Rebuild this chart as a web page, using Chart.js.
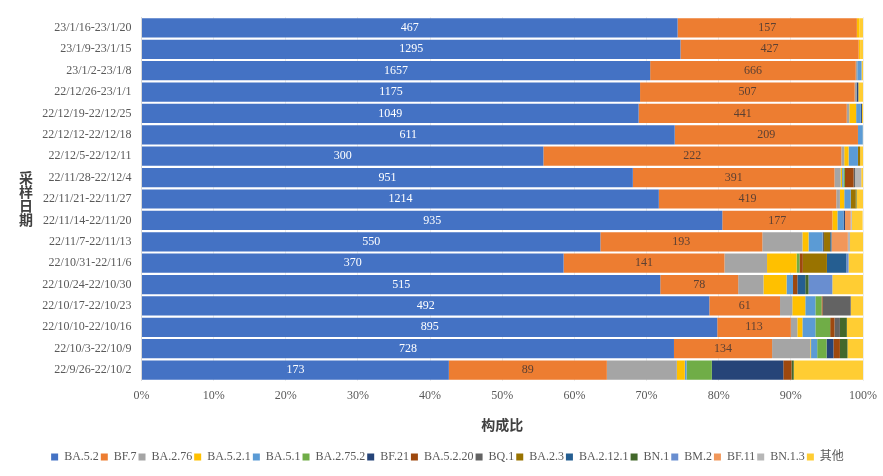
<!DOCTYPE html>
<html lang="zh">
<head>
<meta charset="UTF-8">
<title>构成比</title>
<style>
    body { margin: 0; background: #fff; }
    #wrap { position: relative; width: 883px; height: 476px; }
    #yTitle {
        position: absolute;
        left: 18px;
        top: 171px;
        writing-mode: vertical-rl;
        text-orientation: upright;
        font: bold 14px "Noto Sans CJK SC";
        line-height: 16px;
        letter-spacing: 0;
        color: #404040;
    }
</style>
</head>
<body>
<div id="wrap">
    <canvas id="chart" width="883" height="476"></canvas>
    <div id="yTitle">采样日期</div>
</div>
<script src="https://cdn.jsdelivr.net/npm/chart.js"></script>
<script>
const dates = ['23/1/16-23/1/20','23/1/9-23/1/15','23/1/2-23/1/8','22/12/26-23/1/1','22/12/19-22/12/25','22/12/12-22/12/18','22/12/5-22/12/11','22/11/28-22/12/4','22/11/21-22/11/27','22/11/14-22/11/20','22/11/7-22/11/13','22/10/31-22/11/6','22/10/24-22/10/30','22/10/17-22/10/23','22/10/10-22/10/16','22/10/3-22/10/9','22/9/26-22/10/2'];

// percentages, top row first
const ba52    = [74.3,74.7,70.5,69.1,68.9,73.9,55.7,68.1,71.7,80.5,63.6,58.5,71.9,78.7,79.8,73.8,42.6];
const bf7     = [24.85,24.7,28.5,29.75,28.85,25.4,41.3,27.95,24.6,15.25,22.45,22.3,10.8,9.8,10.2,13.6,21.9];
const ba276   = [0,0,0.2,0.25,0.35,0,0.4,0.85,0.5,0,5.55,5.9,3.5,1.7,0.9,5.3,9.7];
const ba521   = [0.35,0.2,0,0,0.95,0,0.6,0.2,0.6,0.7,0.85,4.1,3.2,1.8,0.7,0.1,1.1];
const ba51    = [0,0,0.6,0,0.65,0.67,1.3,0.2,0.9,0.85,1.95,0,0.9,1.4,1.8,0.85,0.25];
const ba2752  = [0,0,0,0,0,0,0,0.2,0,0,0,0.4,0,0.85,2.05,1.3,3.5];
const bf21    = [0,0,0,0.25,0.15,0,0,0,0,0.2,0,0,0,0,0,0.95,9.9];
const ba5220  = [0,0,0,0,0,0,0,1.2,0,0,0,0.46,0.6,0.15,0.6,0.9,1.15];
const bq1     = [0,0,0,0,0,0,0,0.2,0,0,0.2,0,0,3.9,0.75,0,0];
const ba23    = [0,0,0,0,0,0,0.3,0,0.7,0,0.85,3.34,0,0,0,0,0];
const ba2121  = [0,0,0,0,0,0,0,0,0,0,0.18,2.7,1.1,0,0,0,0];
const bn1     = [0,0,0,0,0,0,0,0,0.1,0,0,0,0.45,0,0.96,1.05,0.3];
const bm2     = [0,0,0,0,0,0,0,0,0,0,0,0.3,3.3,0,0,0,0];
const bf11    = [0,0,0,0,0,0,0,0,0,0.8,2.27,0,0,0,0,0,0];
const bn13    = [0,0,0,0,0,0,0,0.85,0,0.15,0.3,0,0,0,0,0,0];
const other   = [0.5,0.4,0.2,0.65,0.15,0.03,0.4,0.25,0.9,1.5,1.8,2,4.25,1.7,2.24,2.15,9.6];

// sample counts printed on the two biggest segments
const ba52Counts = [467,1295,1657,1175,1049,611,300,951,1214,935,550,370,515,492,895,728,173];
const bf7Counts  = [157,427,666,507,441,209,222,391,419,177,193,141,78,61,113,134,89];

const seriesNames  = ['BA.5.2','BF.7','BA.2.76','BA.5.2.1','BA.5.1','BA.2.75.2','BF.21','BA.5.2.20','BQ.1','BA.2.3','BA.2.12.1','BN.1','BM.2','BF.11','BN.1.3','其他'];
const seriesValues = [ba52,bf7,ba276,ba521,ba51,ba2752,bf21,ba5220,bq1,ba23,ba2121,bn1,bm2,bf11,bn13,other];
const seriesColors = ['#4472C4','#ED7D31','#A5A5A5','#FFC000','#5B9BD5','#70AD47','#264478','#9E480E','#636363','#997300','#255E91','#43682B','#698ED0','#F1975A','#B7B7B7','#FFCD33'];

const latinFont = '"Liberation Serif", "Noto Sans CJK SC"';

// no datalabels plugin here, so the counts are drawn by hand
const countLabels = {
    id: 'countLabels',
    afterDatasetsDraw(chart) {
        const ctx = chart.ctx;
        ctx.save();
        ctx.font = '12px ' + latinFont;
        ctx.textAlign = 'center';
        ctx.textBaseline = 'middle';
        [[0, ba52Counts, '#ffffff'], [1, bf7Counts, '#5c4033']].forEach(([idx, counts, color]) => {
            ctx.fillStyle = color;
            chart.getDatasetMeta(idx).data.forEach((bar, i) => {
                ctx.fillText(counts[i], (bar.base + bar.x) / 2, bar.y);
            });
        });
        ctx.restore();
    }
};

new Chart(document.getElementById('chart'), {
    type: 'bar',
    data: {
        labels: dates,
        datasets: seriesNames.map((name, i) => ({
            label: name,
            data: seriesValues[i],
            backgroundColor: seriesColors[i],
            categoryPercentage: 1,
            barPercentage: 0.9
        }))
    },
    options: {
        indexAxis: 'y',
        responsive: false,
        animation: false,
        layout: { padding: { top: 17, right: 20, bottom: 3, left: 32 } },
        plugins: {
            tooltip: { enabled: false },
            legend: {
                position: 'bottom',
                labels: {
                    boxWidth: 7,
                    boxHeight: 7,
                    padding: 2,
                    color: '#595959',
                    font: { family: latinFont, size: 12 }
                }
            }
        },
        scales: {
            x: {
                stacked: true,
                min: 0,
                max: 100,
                ticks: {
                    stepSize: 10,
                    padding: 8,
                    color: '#595959',
                    font: { family: latinFont, size: 12 },
                    callback: v => v + '%'
                },
                grid: { color: '#ececec', drawTicks: false },
                border: { display: false },
                title: {
                    display: true,
                    text: '构成比',
                    color: '#404040',
                    font: { family: '"Noto Sans CJK SC"', size: 14, weight: 'bold' },
                    padding: { top: 5, bottom: 16 }
                },
                afterFit(axis) { axis.paddingRight = 0; }
            },
            y: {
                stacked: true,
                ticks: {
                    color: '#595959',
                    font: { family: latinFont, size: 12 },
                    autoSkip: false,
                    padding: 10
                },
                grid: { display: false, drawTicks: false },
                border: { color: '#d9d9d9' },
                afterFit(axis) { axis.width = 109.5; }
            }
        }
    },
    plugins: [countLabels]
});
</script>
</body>
</html>
